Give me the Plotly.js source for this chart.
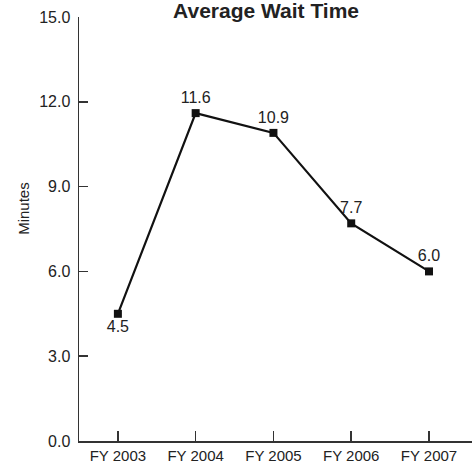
<!DOCTYPE html>
<html>
<head>
<meta charset="utf-8">
<script src="https://cdn.plot.ly/plotly-3.0.1.min.js"></script>
<style>html,body{margin:0;padding:0;background:#fff;} #chart{width:472px;height:466px;}</style>
</head>
<body>
<div id="chart"></div>
<script>
const categories = ['FY 2003', 'FY 2004', 'FY 2005', 'FY 2006', 'FY 2007'];
const waitMinutes = [4.5, 11.6, 10.9, 7.7, 6.0];
const yTickValues = [0, 3, 6, 9, 12, 15];
const yTickLabels = ['0.0', '3.0', '6.0', '9.0', '12.0', '15.0'];

const FONT = '"Liberation Sans", Arial, sans-serif';

const trace = {
  x: categories,
  y: waitMinutes,
  type: 'scatter',
  mode: 'lines+markers+text',
  line: {color: '#111', width: 2.2},
  marker: {symbol: 'square', size: 8, color: '#111'},
  text: waitMinutes.map(v => v.toFixed(1)),
  textposition: ['bottom center', 'top center', 'top center', 'top center', 'top center'],
  textfont: {family: FONT, size: 16, color: '#222'},
  cliponaxis: false,
  hoverinfo: 'skip'
};

const layout = {
  width: 472,
  height: 466,
  margin: {l: 79, r: 0, t: 17, b: 25},
  paper_bgcolor: '#fff',
  plot_bgcolor: '#fff',
  showlegend: false,
  font: {family: FONT, size: 16, color: '#222'},
  title: {
    text: '<b>Average Wait Time</b>',
    font: {family: FONT, size: 21, color: '#222'},
    xref: 'paper', x: 0.476, xanchor: 'center',
    yref: 'container', y: 0.977, yanchor: 'middle'
  },
  xaxis: {
    type: 'category',
    range: [-0.5, 4.553],
    showline: true, linecolor: '#333', linewidth: 1.5,
    ticks: 'inside', ticklen: 10, tickwidth: 1.5, tickcolor: '#333',
    showgrid: false, zeroline: false,
    tickfont: {family: FONT, size: 15, color: '#222'},
    fixedrange: true
  },
  yaxis: {
    range: [0, 15],
    tickvals: yTickValues,
    ticktext: yTickLabels,
    showline: true, linecolor: '#333', linewidth: 1.5,
    ticks: 'inside', ticklen: 9, tickwidth: 1.5, tickcolor: '#333',
    ticklabelstandoff: 4,
    showgrid: false, zeroline: false,
    tickfont: {family: FONT, size: 16, color: '#222'},
    fixedrange: true
  },
  annotations: [{
    text: 'Minutes',
    textangle: -90,
    xref: 'paper', yref: 'paper',
    x: -0.142, y: 0.548,
    xanchor: 'center', yanchor: 'middle',
    showarrow: false,
    font: {family: FONT, size: 15, color: '#222'}
  }]
};

Plotly.newPlot('chart', [trace], layout, {displayModeBar: false, staticPlot: true});
</script>
</body>
</html>
